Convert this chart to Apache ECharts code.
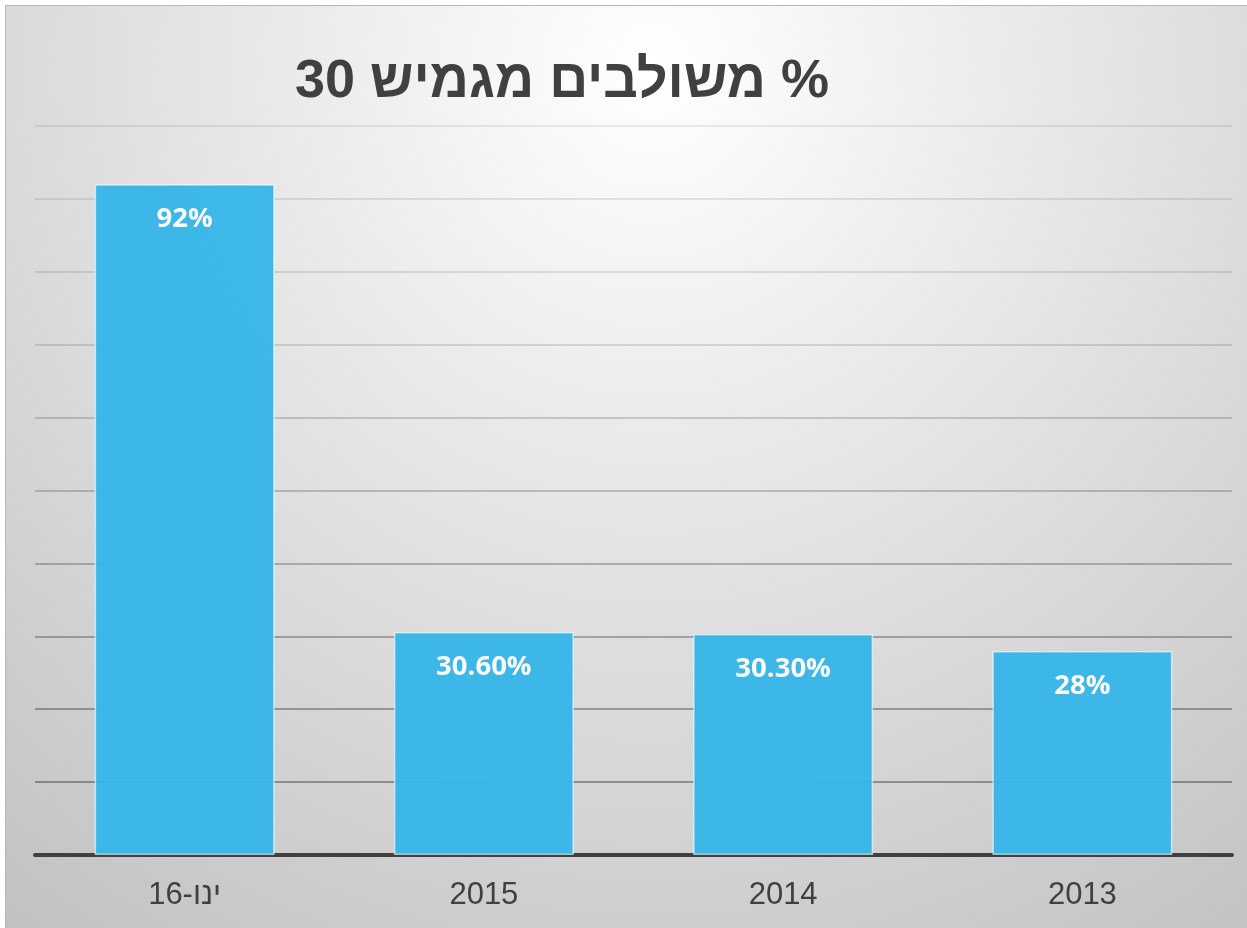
<!DOCTYPE html>
<html>
<head>
<meta charset="utf-8">
<script src="https://cdn.jsdelivr.net/npm/echarts@6/dist/echarts.min.js"></script>
<style>
    html, body { margin: 0; padding: 0; background: #fff; }
    #frame {
        position: absolute; left: 5px; top: 5px; right: 0; bottom: 0;
        border-top: 1px solid #b8b8b8; border-left: 1px solid #b8b8b8;
    }
    #chart { width: 1241px; height: 922px; direction: rtl; }
</style>
</head>
<body>
<div id="frame"><div id="chart"></div></div>
<script>
let categories = ['ינו-16', '2015', '2014', '2013'];
let values = [92, 30.6, 30.3, 28];
let valueLabels = ['92%', '30.60%', '30.30%', '28%'];
let titleText = '% משולבים מגמיש 30';

// gridlines get darker towards the bottom
let gridColors = [
    'rgba(0,0,0,0)', 'rgba(0,0,0,0.33)', 'rgba(0,0,0,0.3)', 'rgba(0,0,0,0.27)',
    'rgba(0,0,0,0.23)', 'rgba(0,0,0,0.19)', 'rgba(0,0,0,0.16)', 'rgba(0,0,0,0.12)',
    'rgba(0,0,0,0.1)', 'rgba(0,0,0,0.09)', 'rgba(0,0,0,0.08)'
];

let myChart = echarts.init(document.getElementById('chart'));

let option = {
    backgroundColor: {
        type: 'radial',
        x: 0.52,
        y: 0.07,
        r: 1.2,
        colorStops: [
            {offset: 0, color: '#ffffff'},
            {offset: 1, color: '#bfbfbf'}
        ]
    },
    title: {
        text: titleText,
        left: 289,
        top: 49,
        padding: 0,
        textStyle: {
            fontFamily: 'Liberation Sans, Arial, sans-serif',
            fontWeight: 'bold',
            fontSize: 54,
            color: '#404040'
        }
    },
    grid: {
        left: 29,
        right: 15,
        top: 120,
        bottom: 73
    },
    xAxis: {
        type: 'category',
        data: categories,
        axisTick: {show: false},
        axisLine: {
            lineStyle: {color: '#404040', width: 4}
        },
        axisLabel: {
            margin: 25,
            fontFamily: 'Liberation Sans, Arial, sans-serif',
            fontSize: 31,
            color: '#404040'
        }
    },
    yAxis: {
        type: 'value',
        min: 0,
        max: 100,
        interval: 10,
        axisLabel: {show: false},
        axisLine: {show: false},
        axisTick: {show: false},
        splitLine: {
            lineStyle: {color: gridColors, width: 2}
        }
    },
    series: [{
        type: 'bar',
        data: values,
        barWidth: 180,
        itemStyle: {
            color: '#38b6e8',
            opacity: 0.97,
            borderColor: 'rgba(255,255,255,0.6)',
            borderWidth: 1.5
        },
        label: {
            show: true,
            position: 'insideTop',
            distance: 21,
            formatter: p => valueLabels[p.dataIndex],
            fontFamily: 'Open Sans, sans-serif',
            fontWeight: 'bold',
            fontSize: 27.5,
            color: '#ffffff'
        }
    }]
};

myChart.setOption(option);
</script>
</body>
</html>
